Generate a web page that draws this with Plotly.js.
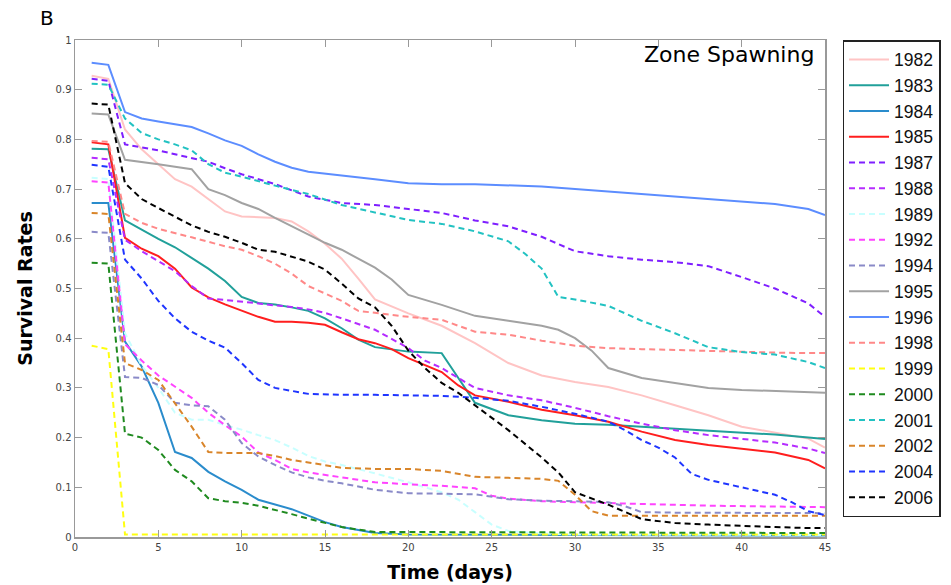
<!DOCTYPE html>
<html>
<head>
<meta charset="utf-8">
<script src="https://cdn.plot.ly/plotly-3.0.1.min.js"></script>
<style>html,body{margin:0;padding:0;background:#fff;}#chart{width:951px;height:585px;}</style>
</head>
<body>
<div id="chart"></div>
<script>
// ---- Data ----
const years = ["1982","1983","1984","1985","1987","1988","1989","1992","1994","1995","1996","1998","1999","2000","2001","2002","2004","2006"];

const d1982 = [1,2,3,4,5,6,7,8,9,10,12,13,14,15,16,17,18,20,22,24,26,28,30,32,34,36,38,40,42,44,45];
const v1982 = [.928,.922,.82,.78,.75,.72,.705,.68,.655,.645,.642,.635,.615,.59,.56,.52,.478,.45,.425,.39,.35,.325,.312,.302,.285,.265,.245,.222,.21,.198,.18];

const d1983 = [1,2,3,4,5,6,7,8,9,10,11,12,13,14,15,16,17,18,20,22,23,24,26,28,30,32,34,36,38,40,42,44,45];
const v1983 = [.781,.78,.637,.618,.60,.583,.562,.54,.515,.483,.471,.468,.462,.455,.44,.42,.397,.382,.373,.37,.32,.27,.245,.235,.228,.226,.222,.218,.214,.21,.206,.2,.197];

const d1984 = [1,2,3,4,5,6,7,8,9,10,11,12,13,14,15,16,18,20,25,30,45];
const v1984 = [.672,.672,.393,.343,.27,.171,.159,.131,.112,.095,.075,.066,.056,.043,.03,.02,.008,.005,.004,.004,.003];

const d1985 = [1,2,3,4,5,6,7,8,9,10,11,12,13,14,15,16,17,18,19,20,22,23,24,26,28,30,32,34,36,38,40,42,44,45];
const v1985 = [.794,.79,.602,.58,.565,.54,.502,.482,.468,.456,.443,.433,.433,.431,.427,.412,.398,.39,.378,.36,.332,.305,.285,.272,.256,.245,.232,.212,.195,.185,.178,.17,.155,.138];

const d1987 = [1,2,3,4,5,6,7,8,9,10,12,14,16,18,20,22,24,26,28,30,32,34,36,38,40,42,44,45];
const v1987 = [.922,.918,.79,.784,.778,.77,.762,.755,.742,.73,.71,.685,.672,.668,.66,.652,.637,.625,.604,.575,.565,.558,.553,.545,.523,.50,.47,.443];

const d1988 = [1,2,3,4,5,6,7,8,9,10,11,12,13,14,15,16,18,20,21,22,24,26,28,30,32,34,36,38,40,42,44,45];
const v1988 = [.763,.76,.598,.575,.555,.535,.505,.48,.477,.474,.47,.466,.463,.458,.451,.44,.417,.38,.355,.34,.30,.285,.275,.26,.243,.228,.215,.205,.198,.19,.178,.169];

const d1989 = [1,2,3,4,5,6,7,8,9,10,11,12,13,14,15,16,18,20,22,23,24,25,26,28,30,45];
const v1989 = [.723,.72,.41,.345,.30,.25,.236,.236,.225,.216,.205,.195,.18,.163,.152,.145,.128,.11,.09,.075,.05,.025,.012,.007,.005,.004];

const d1992 = [1,2,3,4,5,6,7,8,9,10,11,12,13,14,15,16,18,20,22,24,25,26,28,30,34,38,45];
const v1992 = [.716,.713,.388,.355,.325,.302,.28,.25,.225,.202,.17,.155,.137,.13,.125,.119,.11,.106,.103,.098,.083,.077,.072,.07,.066,.063,.06];

const d1994 = [1,2,3,4,5,6,7,8,9,10,11,12,13,14,15,16,18,20,22,24,26,28,30,32,33,34,36,45];
const v1994 = [.614,.612,.322,.32,.306,.27,.265,.263,.236,.189,.162,.145,.13,.12,.113,.108,.095,.088,.087,.086,.076,.073,.072,.07,.062,.05,.049,.048];

const d1995 = [1,2,3,4,5,6,7,8,9,10,11,12,13,14,15,16,17,18,19,20,22,24,26,28,29,30,31,32,34,36,38,40,42,44,45];
const v1995 = [.852,.85,.759,.755,.75,.745,.74,.70,.688,.672,.66,.642,.625,.608,.592,.578,.56,.542,.518,.487,.467,.445,.435,.425,.417,.40,.375,.34,.32,.31,.30,.296,.293,.29,.29];

const d1996 = [1,2,3,4,5,6,7,8,9,10,11,12,13,14,16,18,20,22,24,26,28,30,32,34,36,38,40,42,44,45];
const v1996 = [.954,.95,.855,.842,.836,.83,.825,.812,.798,.787,.77,.755,.743,.735,.728,.72,.712,.71,.71,.708,.705,.70,.695,.69,.685,.68,.675,.67,.66,.648];

const d1998 = [1,2,3,4,5,6,7,8,9,10,11,12,13,14,15,16,17,18,20,22,24,26,28,30,32,34,36,38,40,42,44,45];
const v1998 = [.797,.795,.65,.632,.62,.612,.603,.594,.585,.578,.565,.55,.53,.505,.49,.475,.455,.451,.443,.437,.413,.407,.395,.385,.38,.378,.376,.374,.372,.371,.37,.37];

const d1999 = [1,2,3,45];
const v1999 = [.385,.378,.005,.005];

const d2000 = [1,2,3,4,5,6,7,8,9,10,11,12,13,14,15,16,18,20,45];
const v2000 = [.552,.55,.208,.2,.175,.135,.112,.078,.072,.069,.063,.055,.046,.037,.028,.02,.01,.01,.008];

const d2001 = [1,2,3,4,5,6,7,8,9,10,12,14,16,18,20,22,24,26,27,28,29,30,32,34,36,38,40,42,44,45];
const v2001 = [.912,.91,.842,.813,.80,.79,.778,.75,.733,.725,.707,.69,.668,.653,.638,.63,.615,.595,.57,.54,.483,.478,.465,.435,.41,.382,.372,.367,.352,.34];

const d2002 = [1,2,3,4,5,6,7,8,9,10,11,12,13,14,15,16,18,20,22,24,26,28,29,30,31,32,45];
const v2002 = [.652,.65,.35,.336,.316,.27,.222,.171,.169,.169,.169,.163,.155,.15,.145,.139,.137,.137,.133,.121,.119,.117,.113,.085,.052,.043,.043];

const d2004 = [1,2,3,4,5,6,7,8,9,10,11,12,14,16,18,20,22,24,26,28,30,32,33,34,35,36,37,38,40,42,43,44,45];
const v2004 = [.749,.745,.558,.52,.475,.44,.413,.395,.381,.35,.316,.30,.288,.286,.286,.285,.284,.28,.274,.262,.248,.232,.215,.195,.18,.16,.127,.115,.10,.085,.07,.052,.044];

const d2006 = [1,2,3,4,5,6,7,8,9,10,11,12,13,14,15,16,17,18,19,20,21,22,23,24,26,28,29,30,32,34,36,38,40,42,44,45];
const v2006 = [.872,.87,.712,.68,.662,.645,.627,.614,.604,.592,.578,.574,.564,.554,.538,.51,.48,.462,.425,.375,.34,.31,.29,.265,.215,.16,.13,.09,.065,.036,.028,.025,.022,.02,.018,.018];

const xTicks = [0,5,10,15,20,25,30,35,40,45];
const yTicks = [0,0.1,0.2,0.3,0.4,0.5,0.6,0.7,0.8,0.9,1];
const yTickText = ["0","0.1","0.2","0.3","0.4","0.5","0.6","0.7","0.8","0.9","1"];

const seriesDays = [d1982,d1983,d1984,d1985,d1987,d1988,d1989,d1992,d1994,d1995,d1996,d1998,d1999,d2000,d2001,d2002,d2004,d2006];
const seriesVals = [v1982,v1983,v1984,v1985,v1987,v1988,v1989,v1992,v1994,v1995,v1996,v1998,v1999,v2000,v2001,v2002,v2004,v2006];

// ---- Styles ----
const colors = ["#ffc4c4","#21a09a","#2a8ccc","#ff1e1e","#7f1fff","#b52cff","#c8ffff","#ff44ff","#8a8ac8","#a2a2a2","#5c8dff","#ff8888","#ffff10","#1f8a1f","#22c2c2","#d9852a","#1f35ff","#000000"];
const dashed = [false,false,false,false,true,true,true,true,true,false,false,true,true,true,true,true,true,true];

const traces = years.map((y,i)=>({
  type:"scatter", mode:"lines", name:y,
  x: seriesDays[i], y: seriesVals[i],
  line:{color:colors[i], width:2, dash: dashed[i] ? "6px,4px" : "solid"}
}));

const layout = {
  width:951, height:585,
  margin:{l:75, r:125, t:40, b:48},
  paper_bgcolor:"#ffffff", plot_bgcolor:"#ffffff",
  font:{family:"DejaVu Sans", color:"#333"},
  showlegend:true,
  legend:{x:1.022, y:1.0, xanchor:"left", yanchor:"top",
    bordercolor:"#222", borderwidth:1.5, bgcolor:"#fff",
    font:{family:"Liberation Sans, Arial", size:17.5, color:"#111"},
    itemwidth:40, tracegroupgap:0},
  xaxis:{range:[0,45], tickvals:xTicks, ticktext:xTicks.map(String),
    ticks:"inside", ticklen:7, tickcolor:"#999", showline:true, linecolor:"#999", linewidth:1.5,
    mirror:"ticks", showgrid:false, zeroline:false,
    tickfont:{family:"DejaVu Sans", size:10, color:"#444"},
    title:{text:"<b>Time (days)</b>", font:{family:"DejaVu Sans", size:19, color:"#000"}, standoff:14}},
  yaxis:{range:[0,1], tickvals:yTicks, ticktext:yTickText,
    ticks:"inside", ticklen:7, tickcolor:"#999", showline:true, linecolor:"#999", linewidth:1.5,
    mirror:"ticks", showgrid:false, zeroline:false,
    tickfont:{family:"DejaVu Sans", size:10, color:"#444"},
    title:{text:"<b>Survival Rates</b>", font:{family:"DejaVu Sans", size:19, color:"#000"}, standoff:18}},
  annotations:[
    {text:"B", xref:"paper", yref:"paper", x:-0.037, y:1.045, xanchor:"center", yanchor:"middle",
     showarrow:false, font:{family:"DejaVu Sans", size:20, color:"#000"}},
    {text:"Zone Spawning", xref:"paper", yref:"paper", x:0.988, y:0.97, xanchor:"right", yanchor:"middle",
     showarrow:false, font:{family:"DejaVu Sans", size:22, color:"#000"}}
  ]
};

Plotly.newPlot("chart", traces, layout, {displayModeBar:false, staticPlot:true});
</script>
</body>
</html>
